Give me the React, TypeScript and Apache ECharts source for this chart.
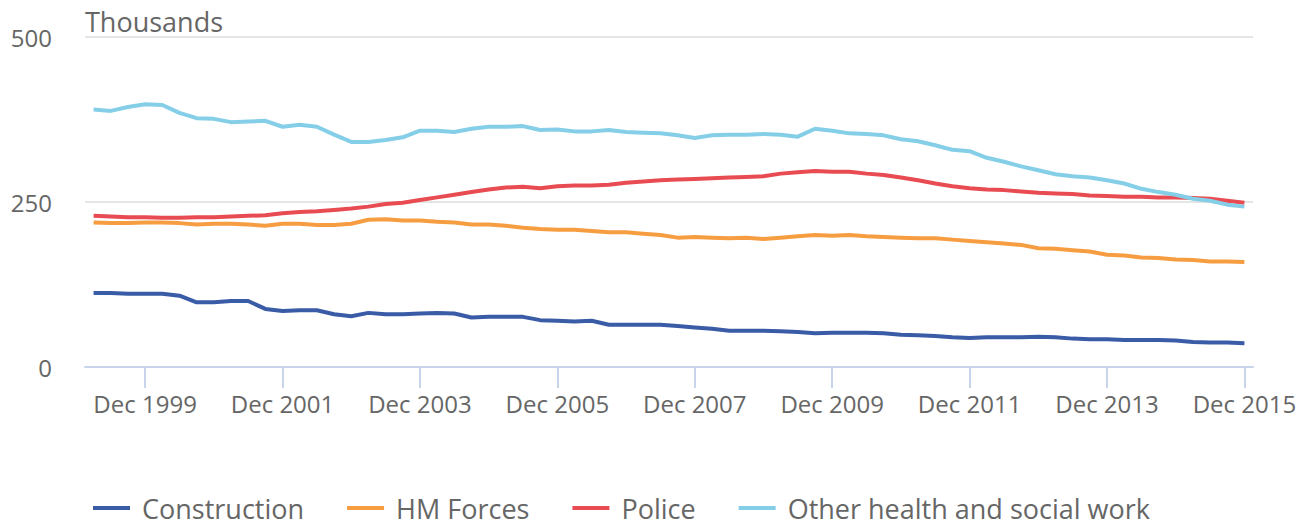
import React, { useEffect, useRef } from "react";
import * as echarts from "echarts";

const years = [1999, 2000, 2001, 2002, 2003, 2004, 2005, 2006, 2007, 2008, 2009, 2010, 2011, 2012, 2013, 2014, 2015];
const quarterMonths = ["Mar", "Jun", "Sep", "Dec"];
const categories: string[] = [];
years.forEach((y) => quarterMonths.forEach((m) => categories.push(`${m} ${y}`)));

const construction = [
  112, 112, 111, 111, 111, 108, 98, 98, 100, 100,
  88, 85, 86, 86, 80, 77, 82, 80, 80, 81,
  82, 81, 75, 76, 76, 76, 71, 70, 69, 70,
  64, 64, 64, 64, 62, 60, 58, 55, 55, 55,
  54, 53, 51, 52, 52, 52, 51, 49, 48, 47,
  45, 44, 45, 45, 45, 46, 45, 43, 42, 42,
  41, 41, 41, 40, 38, 37, 37, 36,
];
const hmForces = [
  219, 218, 218, 219, 219, 218, 216, 217, 217, 216,
  214, 217, 217, 215, 215, 217, 223, 224, 222, 222,
  220, 219, 216, 216, 214, 211, 209, 208, 208, 206,
  204, 204, 202, 200, 196, 197, 196, 195, 196, 194,
  196, 198, 200, 199, 200, 198, 197, 196, 195, 195,
  193, 191, 189, 187, 185, 180, 179, 177, 175, 170,
  169, 166, 165, 163, 162, 160, 160, 159,
];
const police = [
  229, 228, 227, 227, 226, 226, 227, 227, 228, 229,
  230, 233, 235, 236, 238, 240, 243, 247, 249, 253,
  257, 261, 265, 269, 272, 273, 271, 274, 275, 275,
  276, 279, 281, 283, 284, 285, 286, 287, 288, 289,
  293, 295, 297, 296, 296, 293, 291, 287, 283, 278,
  274, 271, 269, 268, 266, 264, 263, 262, 260, 259,
  258, 258, 257, 257, 256, 255, 252, 249,
];
const otherHealth = [
  390, 388, 394, 398, 397, 385, 377, 376, 371, 372,
  373, 364, 367, 364, 352, 341, 341, 344, 348, 358,
  358, 356, 361, 364, 364, 365, 359, 360, 357, 357,
  359, 356, 355, 354, 351, 347, 351, 352, 352, 353,
  352, 349, 361, 358, 354, 353, 351, 345, 342, 336,
  329, 327, 317, 311, 304, 298, 292, 289, 287, 283,
  278, 270, 265, 261, 255, 252, 246, 243,
];

const seriesNames = ["Construction", "HM Forces", "Police", "Other health and social work"];
const seriesColors = ["#3a5ba6", "#f79d41", "#e84c52", "#85cee7"];
const seriesData = [construction, hmForces, police, otherHealth];

const FONT = "'Open Sans', 'Noto Sans', sans-serif";

export default function App() {
  const ref = useRef<HTMLDivElement>(null);
  useEffect(() => {
    document.body.style.margin = "0";
    if (!ref.current) return;
    const chart = echarts.init(ref.current, null, { renderer: "svg" });
    const showLabel = (i: number) => i % 8 === 3;
    chart.setOption({
      animation: false,
      textStyle: { fontFamily: FONT },
      title: {
        text: "Thousands",
        left: 80,
        top: 3,
        textStyle: { fontFamily: FONT, fontSize: 27, fontWeight: "normal", color: "#666666" },
      },
      grid: { left: 85, right: 56, top: 37, bottom: 156 },
      legend: {
        left: 88,
        top: 494,
        padding: [0, 5, 0, 5],
        icon: "rect",
        itemWidth: 37,
        itemHeight: 4,
        itemGap: 43,
        textStyle: { fontFamily: FONT, fontSize: 27, lineHeight: 28, color: "#666666", padding: [0, 0, 0, 7] },
        data: seriesNames,
      },
      xAxis: {
        type: "category",
        boundaryGap: true,
        data: categories,
        axisLine: { lineStyle: { color: "#c8d4ea", width: 2 } },
        axisTick: { show: true, interval: showLabel, alignWithLabel: true, length: 21, lineStyle: { color: "#c8d4ea", width: 2 } },
        axisLabel: { interval: showLabel, fontFamily: FONT, fontSize: 24, color: "#666666", margin: 24 },
        splitLine: { show: false },
      },
      yAxis: {
        type: "value",
        min: 0,
        max: 500,
        interval: 250,
        axisLine: { show: false },
        axisTick: { show: false },
        axisLabel: { fontFamily: FONT, fontSize: 24, color: "#666666", margin: 33 },
        splitLine: { lineStyle: { color: "#e5e5e5", width: 2 } },
      },
      series: seriesNames.map((name, i) => ({
        name,
        type: "line",
        data: seriesData[i],
        showSymbol: false,
        symbol: "none",
        lineStyle: { color: seriesColors[i], width: 4 },
        itemStyle: { color: seriesColors[i] },
      })),
    });
    return () => chart.dispose();
  }, []);
  return <div ref={ref} style={{ width: 1309, height: 523 }} />;
}
